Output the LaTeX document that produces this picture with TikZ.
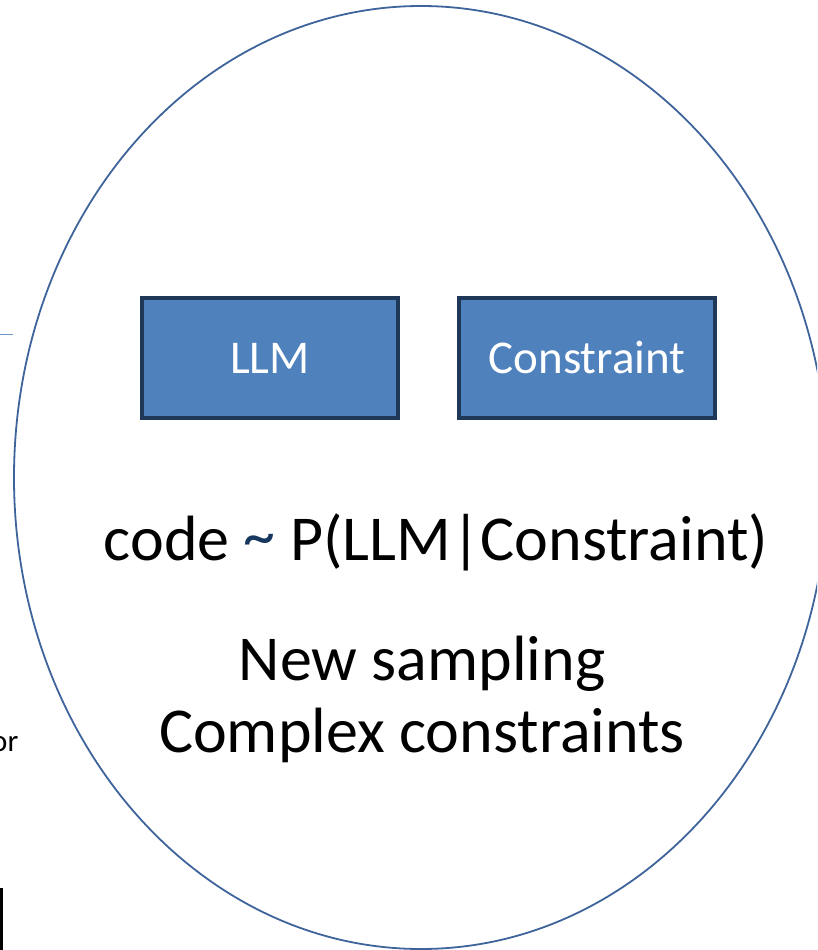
\documentclass[tikz,border=0pt]{standalone}
\usepackage{fontspec}
\setmainfont{Carlito}
\usetikzlibrary{shapes.geometric}
\definecolor{ringblue}{RGB}{62,100,155}
\definecolor{boxfill}{RGB}{79,129,189}
\definecolor{boxedge}{RGB}{31,56,88}
\definecolor{tilde}{RGB}{23,55,94}
\definecolor{sideline}{RGB}{110,150,200}
\tikzset{
  blockbox/.style={draw=boxedge, fill=boxfill, line width=3.5pt, minimum width=256pt, minimum height=120pt,
    inner sep=0pt, text=white, font=\fontsize{47}{56}\selectfont},
  bigtext/.style={font=\fontsize{64}{73}\selectfont, inner sep=0pt, anchor=base},
}
\begin{document}
\begin{tikzpicture}[x=1pt,y=-1pt]
\useasboundingbox (0,0) rectangle (817,950);
\begin{scope}
\clip (0,0) rectangle (817,950);
\node[draw=ringblue, line width=1.8pt, ellipse, minimum width=814pt, minimum height=943pt, inner sep=0pt] (ring) at (421,477.5) {};
\coordinate (lineA) at (-5,334.5);
\coordinate (lineB) at (13,334.5);
\draw[sideline, line width=1.5pt] (lineA) -- (lineB);
\node[font=\fontsize{31}{34}\selectfont, anchor=base west, inner sep=0pt] (ortext) at (-9,751) {or};
\coordinate (cornerA) at (-10,889);
\coordinate (cornerB) at (1.5,889);
\coordinate (cornerC) at (1.5,960);
\draw[black, line width=2.2pt] (cornerA) -- (cornerB) -- (cornerC);
\end{scope}
\node[blockbox] (llm) at (270,358) {LLM};
\node[blockbox] (constraint) at (587,358) {Constraint};
\node[bigtext] (formula) at (436,560) {code \textcolor{tilde}{\raisebox{3pt}{\char`\~}} P(LLM|Constraint)};
\node[bigtext] (newsamp) at (422,680) {New sampling};
\node[bigtext] (complex) at (422,752) {Complex constraints};
\end{tikzpicture}
\end{document}
